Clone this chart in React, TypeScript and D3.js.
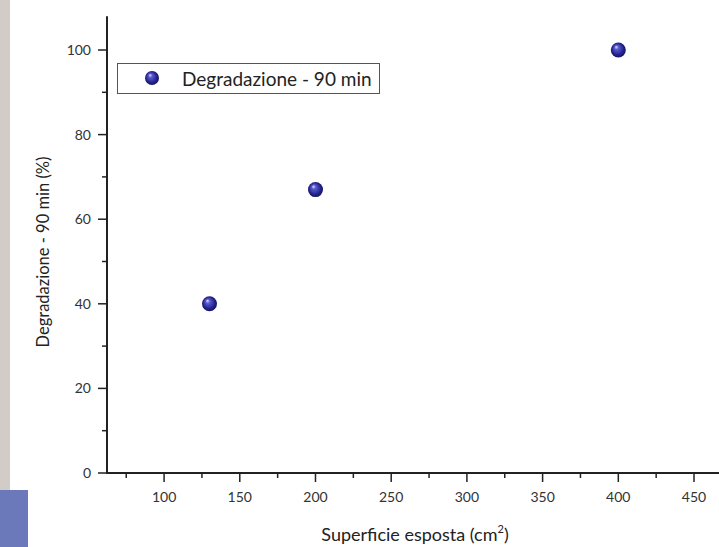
import React, { useEffect, useRef } from 'react';
import * as d3 from 'd3';

// surface (cm2) vs degradation after 90 min (%)
const superficie = [130, 200, 400];
const degradazione = [40, 67, 100];
const xTicks = [100, 150, 200, 250, 300, 350, 400, 450];
const yTicks = [0, 20, 40, 60, 80, 100];
const seriesName = 'Degradazione - 90 min';

const W = 719,
	H = 547;
const FONT = 'Lato, "Open Sans", sans-serif';

export default function App() {
	const ref = useRef<SVGSVGElement>(null);

	useEffect(() => {
		const svg = d3.select(ref.current);
		svg.selectAll('*').remove();

		const x = d3.scaleLinear().domain([62.3, 466.5]).range([107, 719]);
		const y = d3.scaleLinear().domain([0, 100]).range([473, 50]);
		const yTop = y(108);

		const defs = svg.append('defs');
		const grad = defs
			.append('radialGradient')
			.attr('id', 'ball')
			.attr('cx', '50%')
			.attr('cy', '50%')
			.attr('r', '55%')
			.attr('fx', '35%')
			.attr('fy', '28%');
		grad.append('stop').attr('offset', '0%').attr('stop-color', '#e4e6ff');
		grad.append('stop').attr('offset', '25%').attr('stop-color', '#5a5ad0');
		grad.append('stop').attr('offset', '70%').attr('stop-color', '#23238f');
		grad.append('stop').attr('offset', '100%').attr('stop-color', '#10104f');

		svg.append('rect').attr('width', W).attr('height', H).attr('fill', '#fff');

		// slide decoration on the left
		svg.append('rect').attr('x', 0).attr('y', 0).attr('width', 10).attr('height', 490).attr('fill', '#d3cbc8');
		svg.append('rect').attr('x', 0).attr('y', 490).attr('width', 28).attr('height', 57).attr('fill', '#6b78b9');

		const ink = '#222';

		// y axis
		svg.append('line')
			.attr('x1', 107).attr('x2', 107)
			.attr('y1', yTop).attr('y2', y(0) + 1)
			.attr('stroke', ink).attr('stroke-width', 2);
		const yMinor = d3.range(10, 101, 20);
		svg.selectAll('.ymaj').data(yTicks).enter().append('line')
			.attr('x1', 98).attr('x2', 107)
			.attr('y1', d => y(d)).attr('y2', d => y(d))
			.attr('stroke', ink).attr('stroke-width', 1.5);
		svg.selectAll('.ymin').data(yMinor).enter().append('line')
			.attr('x1', 102).attr('x2', 107)
			.attr('y1', d => y(d)).attr('y2', d => y(d))
			.attr('stroke', ink).attr('stroke-width', 1.5);
		svg.selectAll('.ylab').data(yTicks).enter().append('text')
			.attr('x', 91).attr('y', d => y(d))
			.attr('dy', '0.35em')
			.attr('text-anchor', 'end')
			.style('font-family', FONT).style('font-size', '14px').style('fill', '#333')
			.text(d => d);

		// x axis
		svg.append('line')
			.attr('x1', 106).attr('x2', W)
			.attr('y1', y(0)).attr('y2', y(0))
			.attr('stroke', ink).attr('stroke-width', 2);
		const xMinor = d3.range(75, 451, 50);
		svg.selectAll('.xmaj').data(xTicks).enter().append('line')
			.attr('x1', d => x(d)).attr('x2', d => x(d))
			.attr('y1', y(0)).attr('y2', y(0) + 9)
			.attr('stroke', ink).attr('stroke-width', 1.5);
		svg.selectAll('.xmin').data(xMinor).enter().append('line')
			.attr('x1', d => x(d)).attr('x2', d => x(d))
			.attr('y1', y(0)).attr('y2', y(0) + 5)
			.attr('stroke', ink).attr('stroke-width', 1.5);
		svg.selectAll('.xlab').data(xTicks).enter().append('text')
			.attr('x', d => x(d)).attr('y', 502)
			.attr('text-anchor', 'middle')
			.style('font-family', FONT).style('font-size', '14px').style('fill', '#333')
			.text(d => d);

		// axis titles
		const xt = svg.append('text')
			.attr('x', 415).attr('y', 541)
			.attr('text-anchor', 'middle')
			.style('font-family', FONT).style('font-size', '18px').style('fill', '#222');
		xt.append('tspan').text('Superficie esposta (cm');
		xt.append('tspan').attr('dy', -8).style('font-size', '11px').text('2');
		xt.append('tspan').attr('dy', 8).text(')');

		svg.append('text')
			.attr('transform', 'translate(49,252) rotate(-90)')
			.attr('text-anchor', 'middle')
			.style('font-family', FONT).style('font-size', '16.5px').style('fill', '#222')
			.text('Degradazione - 90 min (%)');

		// points
		const pts = superficie.map((s, i) => ({ s, d: degradazione[i] }));
		svg.selectAll('.pt').data(pts).enter().append('circle')
			.attr('cx', p => x(p.s)).attr('cy', p => y(p.d))
			.attr('r', 7.5)
			.attr('fill', 'url(#ball)');

		// legend
		svg.append('rect')
			.attr('x', 117.5).attr('y', 63.5).attr('width', 262).attr('height', 30)
			.attr('fill', '#fff').attr('stroke', '#555').attr('stroke-width', 1);
		svg.append('circle').attr('cx', 152).attr('cy', 78).attr('r', 7).attr('fill', 'url(#ball)');
		svg.append('text')
			.attr('x', 182).attr('y', 79).attr('dy', '0.35em')
			.style('font-family', FONT).style('font-size', '19px').style('fill', '#222')
			.text(seriesName);
	}, []);

	return (
		<svg ref={ref} width={W} height={H} style={{ position: 'absolute', left: 0, top: 0 }} />
	);
}
